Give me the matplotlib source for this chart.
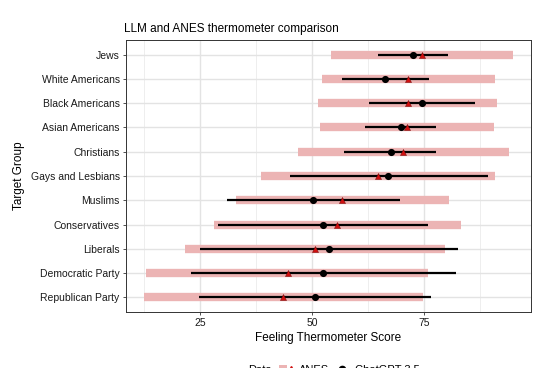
import matplotlib.pyplot as plt
from matplotlib.lines import Line2D
from matplotlib.patches import Patch
from matplotlib.legend_handler import HandlerTuple

plt.rcParams["font.family"] = ["Liberation Sans", "DejaVu Sans"]

groups = ["Jews", "White Americans", "Black Americans", "Asian Americans",
          "Christians", "Gays and Lesbians", "Muslims", "Conservatives",
          "Liberals", "Democratic Party", "Republican Party"]

# ANES: mean and range (pink band)
anes_mean = [74.5, 71.4, 71.4, 71.2, 70.4, 64.7, 56.8, 55.6, 50.7, 44.6, 43.6]
anes_lo = [54.2, 52.2, 51.4, 51.9, 46.9, 38.6, 33.0, 28.2, 21.7, 12.9, 12.6]
anes_hi = [94.8, 90.8, 91.3, 90.6, 94.0, 90.8, 80.7, 83.2, 79.8, 76.0, 74.7]

# ChatGPT 3.5: mean and range (black line)
gpt_mean = [72.5, 66.4, 74.5, 69.9, 67.6, 67.0, 50.3, 52.4, 53.7, 52.5, 50.7]
gpt_lo = [64.8, 56.8, 62.8, 61.9, 57.2, 45.1, 31.0, 29.0, 25.0, 23.0, 24.8]
gpt_hi = [80.3, 76.1, 86.3, 77.6, 77.8, 89.3, 69.6, 75.8, 82.6, 82.1, 76.5]

pink = "#ecb4b4"
W, H = 549, 368
fig = plt.figure(figsize=(W / 100, H / 100), dpi=100)
ax = fig.add_axes([126 / W, 1 - 312 / H, (531 - 126) / W, (312 - 40) / H])

n = len(groups)
ys = [n - i for i in range(n)]

ax.hlines(ys, anes_lo, anes_hi, color=pink, lw=6, zorder=2)
ax.hlines(ys, gpt_lo, gpt_hi, color="black", lw=1.6, zorder=3)
ax.scatter(gpt_mean, ys, s=17, color="black", zorder=4)
ax.scatter(anes_mean, ys, s=19, marker="^", color="#d01010",
           edgecolor="#600000", linewidths=0.3, zorder=5)

ax.set_xlim(8.5, 98.9)
ax.set_ylim(0.4, n + 0.6)
ax.set_xticks([25, 50, 75])
ax.set_xticks([12.5, 37.5, 62.5, 87.5], minor=True)
ax.set_yticks(ys)
ax.set_yticklabels(groups)
ax.grid(True, which="major", color="#e3e3e3", lw=1.0, zorder=0)
ax.grid(True, which="minor", axis="x", color="#e8e8e8", lw=0.5, zorder=0)
ax.set_axisbelow(True)
ax.tick_params(which="major", labelsize=7.5, length=2.5, width=0.6,
               color="#333333", labelcolor="#1a1a1a", pad=2)
ax.tick_params(which="minor", length=0)
for s in ax.spines.values():
    s.set_color("#333333")
    s.set_linewidth(0.7)

ax.set_xlabel("Feeling Thermometer Score", fontsize=8.5, labelpad=3)
ax.set_ylabel("Target Group", fontsize=8.5, labelpad=4)
ax.set_title("LLM and ANES thermometer comparison", fontsize=8.5,
             loc="left", x=-0.005, pad=6)

# legend at bottom (partly outside the figure, as in the original)
leg_y = 1 - 370 / H
fig.text(248 / W, leg_y, "Data", fontsize=8, va="center")
h_anes = (Patch(facecolor=pink, edgecolor="none"),
          Line2D([], [], marker="^", color="#d01010", ls="none", ms=5))
h_gpt = Line2D([], [], marker="o", color="black", lw=1.6, ms=4.5)
fig.legend([h_anes, h_gpt], ["ANES", "ChatGPT 3.5"], ncol=2,
           handler_map={tuple: HandlerTuple(ndivide=None, pad=0)},
           loc="center left", bbox_to_anchor=(279 / W, leg_y),
           frameon=False, fontsize=8, handlelength=1.4, handletextpad=0.4,
           columnspacing=0.5, borderaxespad=0, borderpad=0)

fig.savefig("out.png", dpi=100)
